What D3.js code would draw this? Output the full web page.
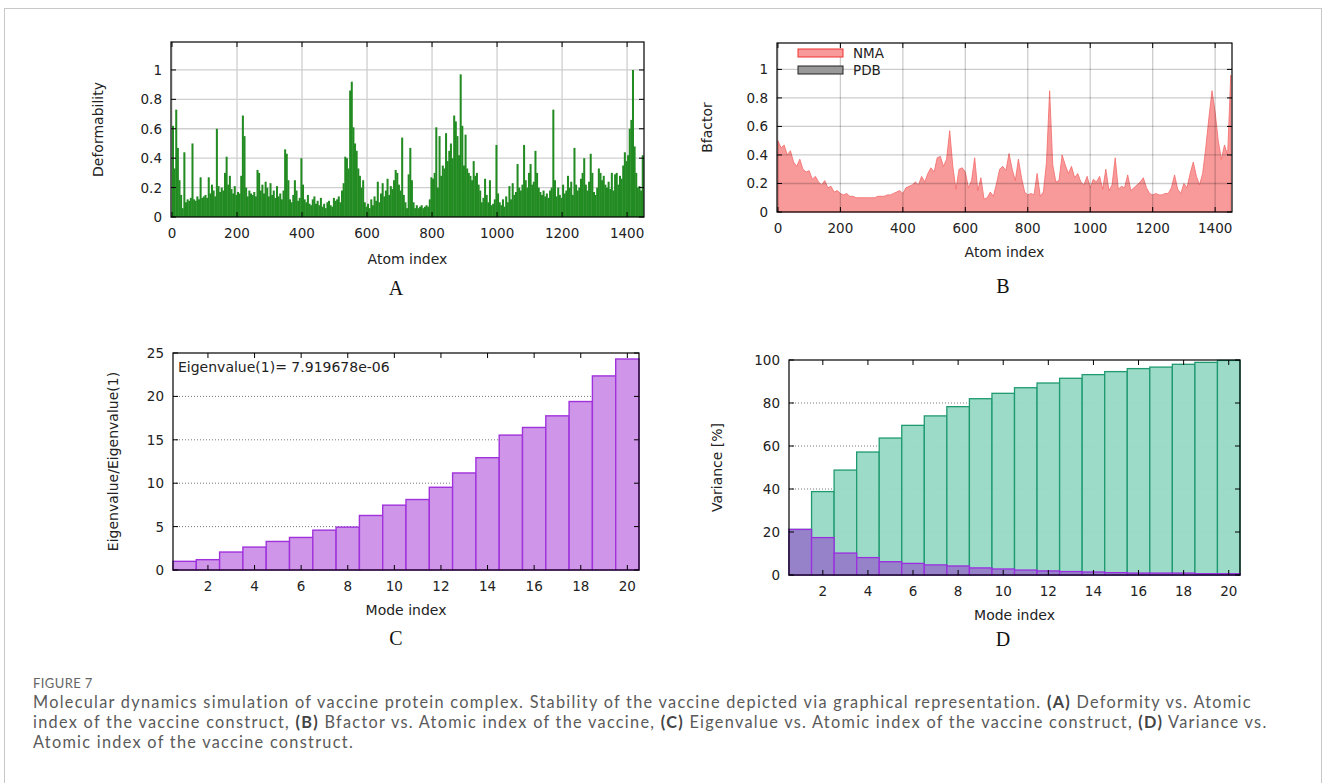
<!DOCTYPE html>
<html>
<head>
<meta charset="utf-8">
<script src="https://cdn.jsdelivr.net/npm/d3@7"></script>
<style>
  body { margin: 0; background: #fff; }
  svg { display: block; }
</style>
</head>
<body>
<svg id="figure" width="1328" height="783"></svg>
<script>
// -------- DATA --------
// (A) deformability, one value per 5-atom window starting at atom 0
const deformStep = 5;
const deformability = [
  0.62, 0.33, 0.73, 0.47, 0.25, 0.15, 0.06, 0.44, 0.10, 0.12,
  0.11, 0.13, 0.50, 0.12, 0.11, 0.14, 0.12, 0.27, 0.13, 0.14,
  0.15, 0.13, 0.27, 0.16, 0.22, 0.18, 0.14, 0.60, 0.21, 0.17,
  0.20, 0.18, 0.30, 0.41, 0.22, 0.28, 0.19, 0.16, 0.21, 0.15,
  0.17, 0.16, 0.28, 0.69, 0.55, 0.20, 0.14, 0.18, 0.16, 0.15,
  0.17, 0.14, 0.32, 0.30, 0.18, 0.22, 0.16, 0.24, 0.20, 0.14,
  0.23, 0.15, 0.18, 0.13, 0.21, 0.14, 0.16, 0.12, 0.18, 0.46,
  0.43, 0.25, 0.12, 0.10, 0.15, 0.25, 0.18, 0.11, 0.13, 0.40,
  0.22, 0.12, 0.10, 0.15, 0.09, 0.08, 0.12, 0.14, 0.09, 0.11,
  0.08, 0.13, 0.07, 0.09, 0.06, 0.10, 0.11, 0.08, 0.07, 0.13,
  0.11, 0.12, 0.14, 0.10, 0.18, 0.23, 0.41, 0.40, 0.33, 0.86,
  0.92, 0.61, 0.50, 0.45, 0.33, 0.28, 0.20, 0.25, 0.10, 0.07,
  0.09, 0.06, 0.12, 0.08, 0.14, 0.11, 0.24, 0.10, 0.16, 0.23,
  0.14, 0.18, 0.26, 0.15, 0.21, 0.19, 0.25, 0.32, 0.30, 0.22,
  0.18, 0.54, 0.15, 0.10, 0.06, 0.29, 0.47, 0.25, 0.10, 0.06,
  0.08, 0.06, 0.07, 0.08, 0.06, 0.07, 0.08, 0.07, 0.12, 0.27,
  0.26, 0.30, 0.61, 0.20, 0.55, 0.28, 0.35, 0.33, 0.57, 0.38,
  0.45, 0.50, 0.40, 0.69, 0.65, 0.55, 0.42, 0.97, 0.62, 0.35,
  0.56, 0.33, 0.30, 0.28, 0.25, 0.38, 0.28, 0.30, 0.22, 0.18,
  0.10, 0.13, 0.26, 0.15, 0.10, 0.25, 0.08, 0.09, 0.12, 0.49,
  0.16, 0.10, 0.08, 0.12, 0.07, 0.14, 0.10, 0.21, 0.12, 0.23,
  0.15, 0.17, 0.36, 0.20, 0.18, 0.22, 0.49, 0.25, 0.20, 0.30,
  0.36, 0.22, 0.24, 0.45, 0.30, 0.20, 0.17, 0.15, 0.18, 0.14,
  0.16, 0.13, 0.18, 0.20, 0.73, 0.25, 0.14, 0.20, 0.15, 0.13,
  0.22, 0.16, 0.18, 0.28, 0.20, 0.24, 0.15, 0.47, 0.22, 0.18,
  0.20, 0.26, 0.30, 0.40, 0.22, 0.18, 0.24, 0.43, 0.30, 0.17,
  0.15, 0.20, 0.33, 0.30, 0.25, 0.28, 0.22, 0.20, 0.24, 0.19,
  0.30, 0.18, 0.29, 0.30, 0.22, 0.28, 0.26, 0.35, 0.44, 0.38,
  0.42, 0.60, 0.66, 1.00, 0.48, 0.30, 0.20, 0.21, 0.18, 0.42
];

// (B) NMA B-factor, sampled every 10 atoms from atom 0
const bfactorStep = 10;
const bfactorNMA = [
  0.50, 0.45, 0.47, 0.40, 0.43, 0.35, 0.32, 0.37, 0.30, 0.28,
  0.29, 0.23, 0.25, 0.21, 0.19, 0.22, 0.17, 0.18, 0.14, 0.15,
  0.13, 0.12, 0.13, 0.11, 0.11, 0.10, 0.10, 0.10, 0.10, 0.10,
  0.10, 0.10, 0.11, 0.11, 0.11, 0.12, 0.12, 0.13, 0.14, 0.15,
  0.13, 0.17, 0.18, 0.19, 0.21, 0.19, 0.25, 0.21, 0.27, 0.31,
  0.28, 0.38, 0.39, 0.32, 0.37, 0.57, 0.32, 0.16, 0.30, 0.31,
  0.28, 0.17, 0.22, 0.38, 0.15, 0.24, 0.09, 0.10, 0.14, 0.11,
  0.20, 0.30, 0.32, 0.29, 0.41, 0.30, 0.22, 0.37, 0.24, 0.14,
  0.12, 0.13, 0.12, 0.27, 0.11, 0.14, 0.35, 0.85, 0.33, 0.21,
  0.22, 0.40, 0.33, 0.27, 0.32, 0.24, 0.27, 0.21, 0.19, 0.25,
  0.17, 0.23, 0.21, 0.25, 0.16, 0.30, 0.15, 0.19, 0.38, 0.16,
  0.18, 0.17, 0.26, 0.15, 0.17, 0.19, 0.21, 0.24, 0.17, 0.13,
  0.12, 0.13, 0.12, 0.12, 0.13, 0.13, 0.17, 0.26, 0.16, 0.13,
  0.20, 0.17, 0.27, 0.35, 0.25, 0.19, 0.27, 0.45, 0.66, 0.85,
  0.70, 0.50, 0.37, 0.47, 0.40, 0.96
];

// (C) and (D) normal modes
const modeIndex = [1, 2, 3, 4, 5, 6, 7, 8, 9, 10, 11, 12, 13, 14, 15, 16, 17, 18, 19, 20];
const eigenRatio = [1.00, 1.19, 2.07, 2.64, 3.29, 3.75, 4.59, 4.94, 6.28, 7.47,
  8.12, 9.53, 11.18, 12.94, 15.54, 16.42, 17.76, 19.41, 22.36, 24.31];
const varianceIndividual = [21.2, 17.4, 10.2, 8.1, 6.2, 5.4, 4.7, 4.2, 3.3, 2.8,
  2.3, 1.9, 1.6, 1.4, 1.1, 0.9, 0.9, 0.9, 0.6, 0.6];
const varianceCumulative = [21.2, 38.8, 48.8, 57.2, 63.7, 69.6, 74.0, 78.3, 82.0, 84.5,
  87.1, 89.3, 91.5, 93.2, 94.6, 96.0, 96.7, 98.0, 98.9, 99.8];

// tick values
const atomTicks = [0, 200, 400, 600, 800, 1000, 1200, 1400];
const unitTicks = [0, 0.2, 0.4, 0.6, 0.8, 1];
const modeTicks = [2, 4, 6, 8, 10, 12, 14, 16, 18, 20];
const eigenTicks = [0, 5, 10, 15, 20, 25];
const varianceTicks = [0, 20, 40, 60, 80, 100];

const eigenNote = "Eigenvalue(1)= 7.919678e-06";
const figureLabel = "FIGURE 7";
const captionLines = [
  [["Molecular dynamics simulation of vaccine protein complex. Stability of the vaccine depicted via graphical representation. ", false], ["(A)", true], [" Deformity vs. Atomic", false]],
  [["index of the vaccine construct, ", false], ["(B)", true], [" Bfactor vs. Atomic index of the vaccine, ", false], ["(C)", true], [" Eigenvalue vs. Atomic index of the vaccine construct, ", false], ["(D)", true], [" Variance vs.", false]],
  [["Atomic index of the vaccine construct.", false]]
];

// -------- STYLE --------
const PLOT_FONT = "'DejaVu Sans', sans-serif";
const CAPTION_FONT = "Lato, 'Open Sans', sans-serif";
const TEXT_COLOR = "#222";

const svg = d3.select("#figure");

svg.append("rect")
  .attr("x", 4.5).attr("y", 8.5)
  .attr("width", 1317).attr("height", 800)
  .attr("fill", "#fff")
  .attr("stroke", "#c8c8c8")
  .attr("stroke-width", 1);

// -------- SHARED AXIS DRAWING --------
function drawAxes(g, x, y, xTicks, yTicks, fmt, opt) {
  const [x0, x1] = x.range();
  const [y1, y0] = y.range();

  // inward ticks on all four sides
  const tickLen = 5;
  xTicks.forEach(t => {
    g.append("line").attr("x1", x(t)).attr("x2", x(t)).attr("y1", y1).attr("y2", y1 - tickLen)
      .attr("stroke", "#000").attr("stroke-width", 1);
    g.append("line").attr("x1", x(t)).attr("x2", x(t)).attr("y1", y0).attr("y2", y0 + tickLen)
      .attr("stroke", "#000").attr("stroke-width", 1);
  });
  yTicks.forEach(t => {
    g.append("line").attr("x1", x0).attr("x2", x0 + tickLen).attr("y1", y(t)).attr("y2", y(t))
      .attr("stroke", "#000").attr("stroke-width", 1);
    g.append("line").attr("x1", x1).attr("x2", x1 - tickLen).attr("y1", y(t)).attr("y2", y(t))
      .attr("stroke", "#000").attr("stroke-width", 1);
  });

  // frame
  g.append("rect")
    .attr("x", x0).attr("y", y0)
    .attr("width", x1 - x0).attr("height", y1 - y0)
    .attr("fill", "none")
    .attr("stroke", "#000")
    .attr("stroke-width", 1.2);

  // tick labels
  g.append("g").selectAll("text")
    .data(xTicks).enter().append("text")
    .attr("x", d => x(d))
    .attr("y", y1 + 21)
    .attr("text-anchor", "middle")
    .attr("font-family", PLOT_FONT)
    .attr("font-size", 13.5)
    .attr("fill", TEXT_COLOR)
    .text(d => d);

  g.append("g").selectAll("text")
    .data(yTicks).enter().append("text")
    .attr("x", x0 - 9)
    .attr("y", d => y(d) + 5)
    .attr("text-anchor", "end")
    .attr("font-family", PLOT_FONT)
    .attr("font-size", 13.5)
    .attr("fill", TEXT_COLOR)
    .text(fmt);

  // axis titles
  g.append("text")
    .attr("x", (x0 + x1) / 2)
    .attr("y", y1 + opt.xTitleDy)
    .attr("text-anchor", "middle")
    .attr("font-family", PLOT_FONT)
    .attr("font-size", 14)
    .attr("fill", TEXT_COLOR)
    .text(opt.xTitle);

  g.append("text")
    .attr("transform", `translate(${opt.yTitleX},${(y0 + y1) / 2}) rotate(-90)`)
    .attr("text-anchor", "middle")
    .attr("dy", "0.35em")
    .attr("font-family", PLOT_FONT)
    .attr("font-size", 14)
    .attr("fill", TEXT_COLOR)
    .text(opt.yTitle);

  // panel letter
  g.append("text")
    .attr("x", opt.letterX)
    .attr("y", opt.letterY)
    .attr("text-anchor", "middle")
    .attr("font-family", "'Liberation Serif', serif")
    .attr("font-size", 20)
    .attr("fill", "#111")
    .text(opt.letter);
}

const fmtUnit = d => String(+d.toFixed(1));

// -------- PANEL A --------
function drawPanelA() {
  const g = svg.append("g").attr("class", "panel-a");
  const x = d3.scaleLinear().domain([-3, 1452]).range([171, 644]);
  const y = d3.scaleLinear().domain([0, 1.19]).range([217, 42]);

  // solid light grid behind the bars
  g.append("g").selectAll("line")
    .data(atomTicks).enter().append("line")
    .attr("x1", d => x(d)).attr("x2", d => x(d))
    .attr("y1", y.range()[0]).attr("y2", y.range()[1])
    .attr("stroke", "#cfcfcf").attr("stroke-width", 1.3);
  g.append("g").selectAll("line")
    .data(unitTicks.slice(1)).enter().append("line")
    .attr("x1", x.range()[0]).attr("x2", x.range()[1])
    .attr("y1", d => y(d)).attr("y2", d => y(d))
    .attr("stroke", "#cfcfcf").attr("stroke-width", 1.3);

  g.append("g").selectAll("rect")
    .data(deformability).enter().append("rect")
    .attr("x", (d, i) => x(i * deformStep))
    .attr("width", x(deformStep) - x(0) + 0.4)
    .attr("y", d => y(d))
    .attr("height", d => y(0) - y(d))
    .attr("fill", "#228b22");

  drawAxes(g, x, y, atomTicks, unitTicks, fmtUnit, {
    xTitle: "Atom index", xTitleDy: 47,
    yTitle: "Deformability", yTitleX: 98,
    letter: "A", letterX: 396, letterY: 295
  });
}

// -------- PANEL B --------
function drawPanelB() {
  const g = svg.append("g").attr("class", "panel-b");
  const x = d3.scaleLinear().domain([-3, 1454]).range([777, 1232]);
  const y = d3.scaleLinear().domain([0, 1.185]).range([212, 43]);

  const area = d3.area()
    .x((d, i) => x(Math.min(i * bfactorStep, 1454)))
    .y0(y(0))
    .y1(d => y(d));

  g.append("path")
    .datum(bfactorNMA)
    .attr("d", area)
    .attr("fill", "#f99a9a")
    .attr("stroke", "#f26a6a")
    .attr("stroke-width", 0.8);

  // grid drawn over the filled profile
  g.append("g").selectAll("line")
    .data(atomTicks).enter().append("line")
    .attr("x1", d => x(d)).attr("x2", d => x(d))
    .attr("y1", y.range()[0]).attr("y2", y.range()[1])
    .attr("stroke", "#000").attr("stroke-opacity", 0.2).attr("stroke-width", 1.3);
  g.append("g").selectAll("line")
    .data(unitTicks.slice(1)).enter().append("line")
    .attr("x1", x.range()[0]).attr("x2", x.range()[1])
    .attr("y1", d => y(d)).attr("y2", d => y(d))
    .attr("stroke", "#000").attr("stroke-opacity", 0.2).attr("stroke-width", 1.3);

  // legend
  const legend = [
    { name: "NMA", fill: "#f99a9a", stroke: "#f03030" },
    { name: "PDB", fill: "#999999", stroke: "#222" }
  ];
  const lg = g.append("g").selectAll("g")
    .data(legend).enter().append("g")
    .attr("transform", (d, i) => `translate(798,${49 + i * 17})`);
  lg.append("rect")
    .attr("width", 45).attr("height", 8)
    .attr("fill", d => d.fill)
    .attr("stroke", d => d.stroke)
    .attr("stroke-width", 1);
  lg.append("text")
    .attr("x", 55).attr("y", 9)
    .attr("font-family", PLOT_FONT)
    .attr("font-size", 13.5)
    .attr("fill", TEXT_COLOR)
    .text(d => d.name);

  drawAxes(g, x, y, atomTicks, unitTicks, fmtUnit, {
    xTitle: "Atom index", xTitleDy: 45,
    yTitle: "Bfactor", yTitleX: 707,
    letter: "B", letterX: 1003, letterY: 293
  });
}

// -------- PANEL C --------
function drawPanelC() {
  const g = svg.append("g").attr("class", "panel-c");
  const x = d3.scaleLinear().domain([0.5, 20.5]).range([173, 639]);
  const y = d3.scaleLinear().domain([0, 25]).range([570, 353]);

  g.append("g").selectAll("line")
    .data(eigenTicks.slice(1, -1)).enter().append("line")
    .attr("x1", x.range()[0]).attr("x2", x.range()[1])
    .attr("y1", d => y(d)).attr("y2", d => y(d))
    .attr("stroke", "#777").attr("stroke-width", 1)
    .attr("stroke-dasharray", "1,2");

  g.append("g").selectAll("rect")
    .data(modeIndex).enter().append("rect")
    .attr("x", d => x(d - 0.5))
    .attr("width", x(1.5) - x(0.5))
    .attr("y", (d, i) => y(eigenRatio[i]))
    .attr("height", (d, i) => y(0) - y(eigenRatio[i]))
    .attr("fill", "#cf95e8")
    .attr("stroke", "#a032dc")
    .attr("stroke-width", 1.4);

  g.append("text")
    .attr("x", 178).attr("y", 372)
    .attr("font-family", PLOT_FONT)
    .attr("font-size", 14)
    .attr("fill", TEXT_COLOR)
    .text(eigenNote);

  drawAxes(g, x, y, modeTicks, eigenTicks, d => d, {
    xTitle: "Mode index", xTitleDy: 45,
    yTitle: "Eigenvalue/Eigenvalue(1)", yTitleX: 113,
    letter: "C", letterX: 396, letterY: 645
  });
}

// -------- PANEL D --------
function drawPanelD() {
  const g = svg.append("g").attr("class", "panel-d");
  const x = d3.scaleLinear().domain([0.5, 20.5]).range([789, 1240]);
  const y = d3.scaleLinear().domain([0, 100]).range([575, 360]);

  g.append("g").selectAll("line")
    .data(varianceTicks.slice(1, -1)).enter().append("line")
    .attr("x1", x.range()[0]).attr("x2", x.range()[1])
    .attr("y1", d => y(d)).attr("y2", d => y(d))
    .attr("stroke", "#777").attr("stroke-width", 1)
    .attr("stroke-dasharray", "1,2");

  g.append("g").selectAll("rect")
    .data(modeIndex).enter().append("rect")
    .attr("x", d => x(d - 0.5))
    .attr("width", x(1.5) - x(0.5))
    .attr("y", (d, i) => y(varianceCumulative[i]))
    .attr("height", (d, i) => y(0) - y(varianceCumulative[i]))
    .attr("fill", "#97d9c4")
    .attr("fill-opacity", 0.95)
    .attr("stroke", "#1f9a70")
    .attr("stroke-width", 1.3);

  g.append("g").selectAll("rect")
    .data(modeIndex).enter().append("rect")
    .attr("x", d => x(d - 0.5))
    .attr("width", x(1.5) - x(0.5))
    .attr("y", (d, i) => y(varianceIndividual[i]))
    .attr("height", (d, i) => y(0) - y(varianceIndividual[i]))
    .attr("fill", "#9582c8")
    .attr("stroke", "#9a2ee0")
    .attr("stroke-width", 1.3);

  drawAxes(g, x, y, modeTicks, varianceTicks, d => d, {
    xTitle: "Mode index", xTitleDy: 45,
    yTitle: "Variance [%]", yTitleX: 717,
    letter: "D", letterX: 1003, letterY: 646
  });
}

// -------- CAPTION --------
function drawCaption() {
  svg.append("text")
    .attr("x", 33).attr("y", 688)
    .attr("font-family", CAPTION_FONT)
    .attr("font-size", 13)
    .attr("letter-spacing", 0.4)
    .attr("fill", "#666")
    .text(figureLabel);

  captionLines.forEach((segs, i) => {
    const t = svg.append("text")
      .attr("x", 33).attr("y", 708 + i * 19.8)
      .attr("font-family", CAPTION_FONT)
      .attr("font-size", 16.3)
      .attr("letter-spacing", 1.28)
      .attr("fill", "#5a5a5a");
    segs.forEach(([s, bold]) => {
      t.append("tspan")
        .attr("font-weight", bold ? 700 : 400)
        .attr("fill", bold ? "#444" : "#5a5a5a")
        .text(s);
    });
  });
}

drawPanelA();
drawPanelB();
drawPanelC();
drawPanelD();
drawCaption();
</script>
</body>
</html>
